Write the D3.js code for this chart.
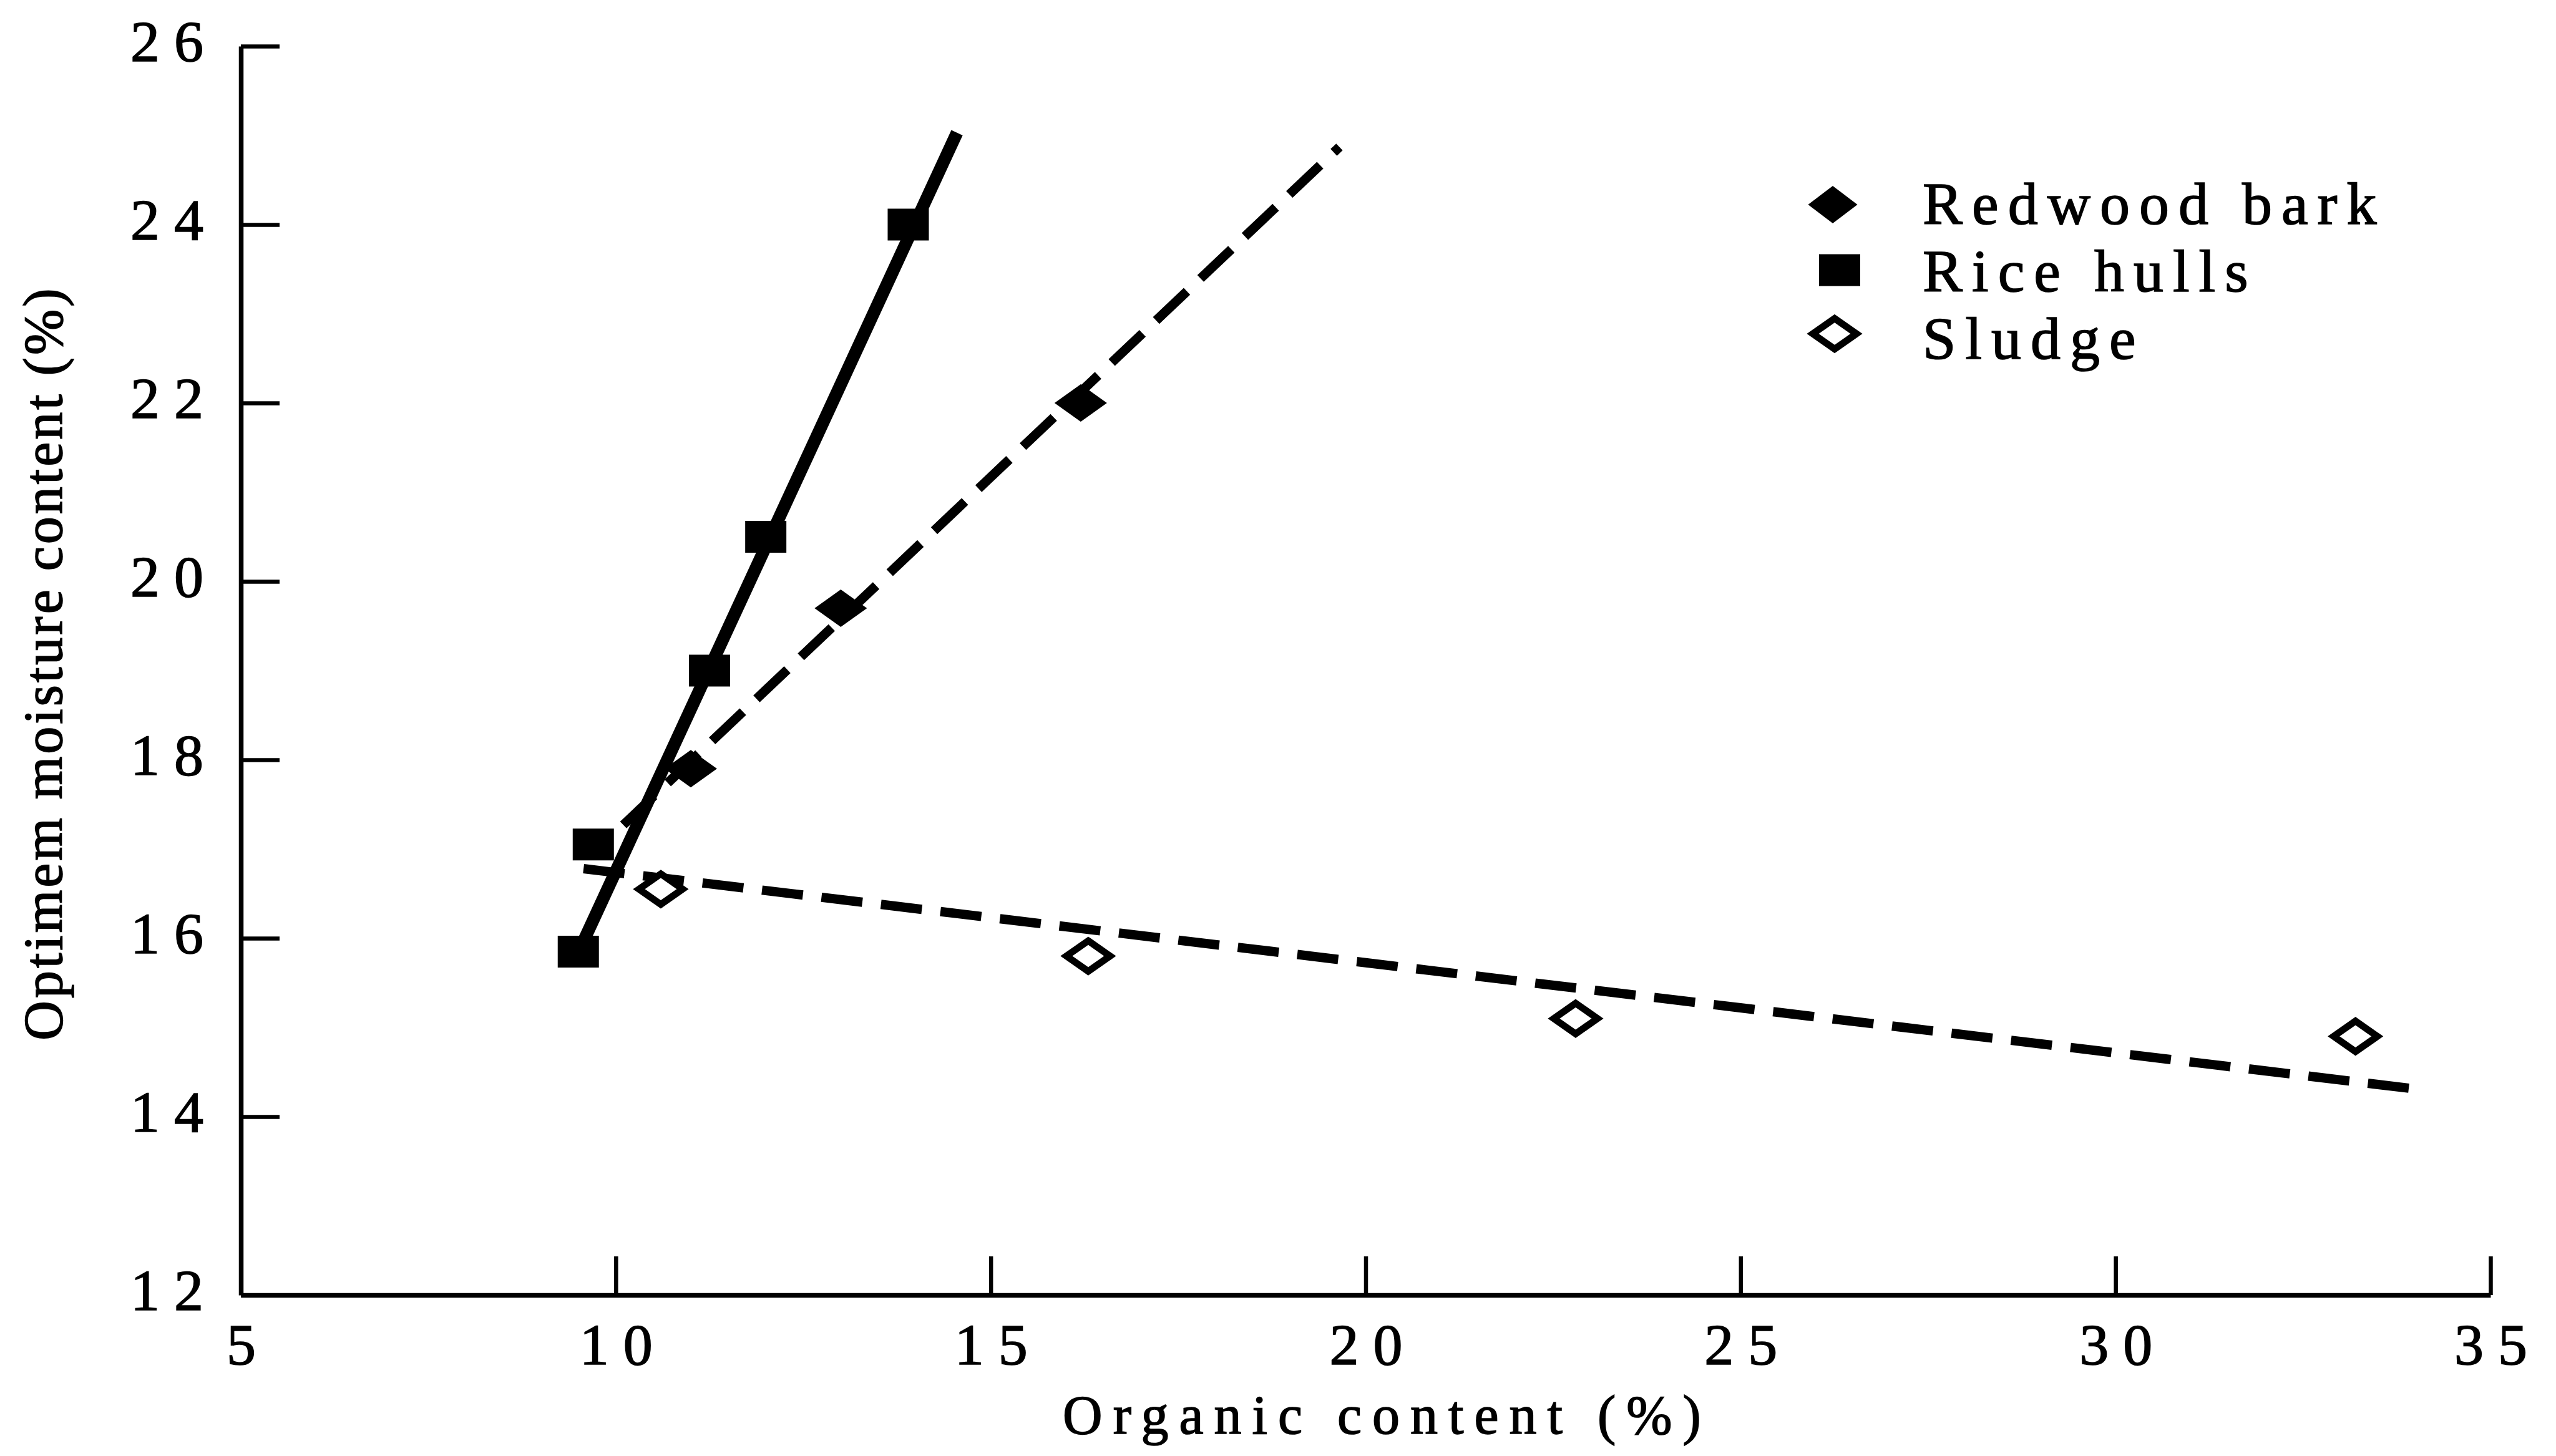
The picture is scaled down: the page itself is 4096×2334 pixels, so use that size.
<!DOCTYPE html>
<html>
<head>
<meta charset="utf-8">
<script src="https://cdn.jsdelivr.net/npm/d3@7"></script>
<style>
  html, body { margin: 0; padding: 0; background: #fff; }
  svg { display: block; }
  text { font-family: "Liberation Serif", "Times New Roman", serif; fill: #000; stroke: #000; stroke-width: 1.6px; }
</style>
</head>
<body>
<div id="chart"></div>
<script>
// values
const redwoodX = [11.0, 13.0, 16.2];
const redwoodY = [17.9, 19.7, 22.0];
const riceX = [9.5, 9.7, 11.25, 12.0, 13.9];
const riceY = [15.85, 17.05, 19.0, 20.5, 24.0];
const sludgeX = [10.6, 16.3, 22.8, 33.2];
const sludgeY = [16.55, 15.8, 15.1, 14.9];

// fitted lines (end points)
const redwoodFitX = [10.1, 19.65];
const redwoodFitY = [17.27, 24.87];
const riceFitX = [9.45, 14.55];
const riceFitY = [15.75, 25.03];
const sludgeFitX = [9.57, 34.1];
const sludgeFitY = [16.78, 14.3];

const xTicks = [5, 10, 15, 20, 25, 30, 35];
const yTicks = [12, 14, 16, 18, 20, 22, 24, 26];
const legendLabels = ["Redwood bark", "Rice hulls", "Sludge"];
const xTitle = "Organic content (%)";
const yTitle = "Optimem moisture content (%)";

const width = 4096, height = 2334;
const plotLeft = 386, plotRight = 3991, plotTop = 74, plotBottom = 2076;

const svg = d3.select("#chart").append("svg")
  .attr("width", width)
  .attr("height", height);

const x = d3.scaleLinear().domain([5, 35]).range([plotLeft, plotRight]);
const y = d3.scaleLinear().domain([12, 26]).range([plotBottom, plotTop]);

const zip = (xs, ys) => xs.map((v, i) => [v, ys[i]]);

// diamond / square path helpers
function diamond(w, h) {
  return "M0," + (-h / 2) + "L" + (w / 2) + ",0L0," + (h / 2) + "L" + (-w / 2) + ",0Z";
}
function rect(w, h) {
  return "M" + (-w / 2) + "," + (-h / 2) + "h" + w + "v" + h + "h" + (-w) + "Z";
}

//axes, ticks pointing inward
const tickLs = 23;
const xAxis = svg.append("g")
  .attr("transform", "translate(0," + plotBottom + ")")
  .call(d3.axisBottom(x).tickValues(xTicks).tickSize(-62).tickSizeOuter(0));
const yAxis = svg.append("g")
  .attr("transform", "translate(" + plotLeft + ",0)")
  .call(d3.axisLeft(y).tickValues(yTicks).tickSize(-62).tickSizeOuter(0));

[xAxis, yAxis].forEach(g => {
  g.select(".domain").attr("stroke", "#000").attr("stroke-width", 7.5);
  g.selectAll(".tick line").attr("stroke", "#000").attr("stroke-width", 6.5);
  g.selectAll(".tick text")
    .attr("font-size", 94)
    .attr("font-family", "Liberation Serif")
    .attr("letter-spacing", tickLs)
    .attr("fill", "#000")
    .attr("dy", null);
});
xAxis.selectAll(".tick text").attr("y", 111).attr("dx", tickLs / 2);
yAxis.selectAll(".tick text").attr("x", -60 + tickLs).attr("y", 23);

// axis titles
svg.append("text")
  .attr("x", 2215 + 8)
  .attr("y", 2298)
  .attr("text-anchor", "middle")
  .attr("font-size", 88)
  .attr("letter-spacing", 17)
  .text(xTitle);

svg.append("text")
  .attr("transform", "translate(99," + 1063 + ") rotate(-90)")
  .attr("text-anchor", "middle")
  .attr("font-size", 88)
  .attr("letter-spacing", 4)
  .text(yTitle);

// fitted lines
const line = d3.line().x(d => x(d[0])).y(d => y(d[1]));

svg.append("path")
  .datum(zip(riceFitX, riceFitY))
  .attr("d", line)
  .attr("fill", "none")
  .attr("stroke", "#000")
  .attr("stroke-width", 20);

svg.append("path")
  .datum(zip(redwoodFitX, redwoodFitY))
  .attr("d", line)
  .attr("fill", "none")
  .attr("stroke", "#000")
  .attr("stroke-width", 15)
  .attr("stroke-dasharray", "68,30");

svg.append("path")
  .datum(zip(sludgeFitX, sludgeFitY))
  .attr("d", line)
  .attr("fill", "none")
  .attr("stroke", "#000")
  .attr("stroke-width", 15)
  .attr("stroke-dasharray", "66,30");

// points
svg.selectAll(".redwood").data(zip(redwoodX, redwoodY)).enter().append("path")
  .attr("class", "redwood")
  .attr("transform", d => "translate(" + x(d[0]) + "," + y(d[1]) + ")")
  .attr("d", diamond(84, 60))
  .attr("fill", "#000");

svg.selectAll(".rice").data(zip(riceX, riceY)).enter().append("path")
  .attr("class", "rice")
  .attr("transform", d => "translate(" + x(d[0]) + "," + y(d[1]) + ")")
  .attr("d", rect(66, 51))
  .attr("fill", "#000");

svg.selectAll(".sludge").data(zip(sludgeX, sludgeY)).enter().append("path")
  .attr("class", "sludge")
  .attr("transform", d => "translate(" + x(d[0]) + "," + y(d[1]) + ")")
  .attr("d", diamond(70, 49))
  .attr("fill", "#fff")
  .attr("stroke", "#000")
  .attr("stroke-width", 11);

// legend
const legend = svg.append("g");
const legendShapes = [
  { d: diamond(79, 60), fill: "#000", stroke: "none", cx: 2937, cy: 328 },
  { d: rect(66, 51), fill: "#000", stroke: "none", cx: 2948, cy: 433 },
  { d: diamond(70, 49), fill: "#fff", stroke: "#000", cx: 2940, cy: 535 }
];
legendLabels.forEach((label, i) => {
  const s = legendShapes[i];
  legend.append("path")
    .attr("transform", "translate(" + s.cx + "," + s.cy + ")")
    .attr("d", s.d)
    .attr("fill", s.fill)
    .attr("stroke", s.stroke)
    .attr("stroke-width", 11);
  legend.append("text")
    .attr("x", 3081)
    .attr("y", 359 + i * 108)
    .attr("font-size", 96)
    .attr("letter-spacing", 15)
    .text(label);
});
</script>
</body>
</html>
